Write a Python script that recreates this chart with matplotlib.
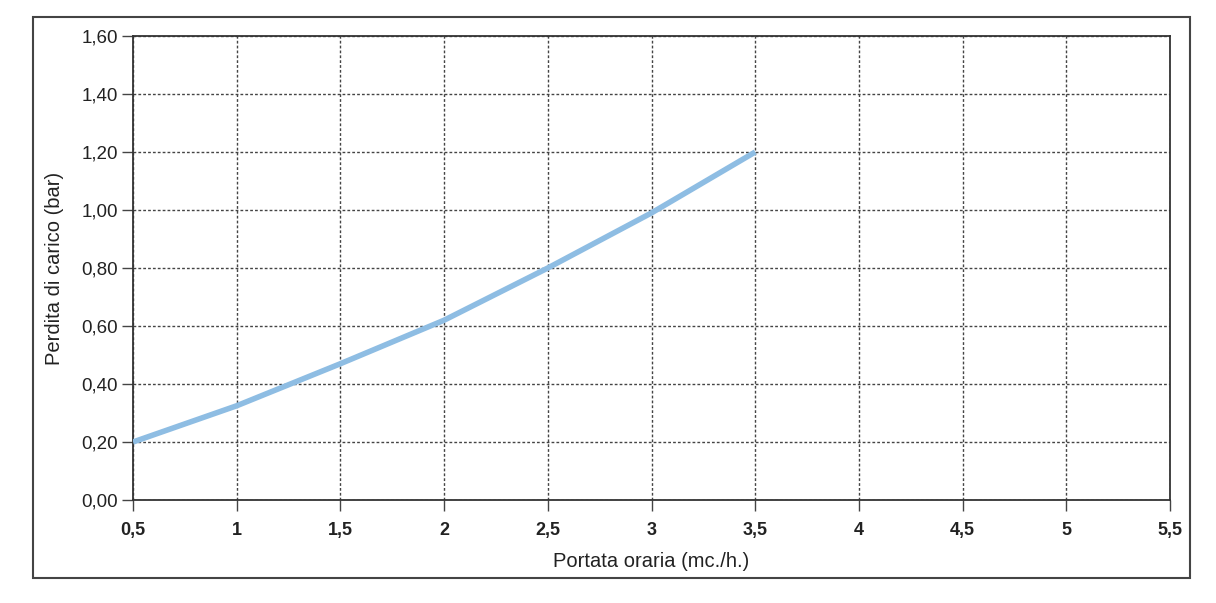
import matplotlib
matplotlib.use("Agg")
import matplotlib.pyplot as plt
from matplotlib.patches import Rectangle

plt.rcParams["font.family"] = ["Liberation Sans", "DejaVu Sans"]

# Portata oraria (mc./h.) vs perdita di carico (bar)
portata = [0.5, 1.0, 1.5, 2.0, 2.5, 3.0, 3.5]
perdita = [0.20, 0.325, 0.47, 0.62, 0.80, 0.99, 1.20]

x_ticks = [0.5, 1, 1.5, 2, 2.5, 3, 3.5, 4, 4.5, 5, 5.5]
x_labels = ["0,5", "1", "1,5", "2", "2,5", "3", "3,5", "4", "4,5", "5", "5,5"]
y_ticks = [0.0, 0.2, 0.4, 0.6, 0.8, 1.0, 1.2, 1.4, 1.6]
y_labels = ["0,00", "0,20", "0,40", "0,60", "0,80", "1,00", "1,20", "1,40", "1,60"]

fig = plt.figure(figsize=(12.16, 6.03), dpi=100)
ax = fig.add_axes([0.1094, 0.1708, 0.8528, 0.7695])

# outer frame around the whole chart
fig.patches.append(Rectangle((0.027, 0.0415), 0.9516, 0.9303, transform=fig.transFigure,
                             fill=False, edgecolor="#444444", linewidth=1.5))

ax.plot(portata, perdita, color="#8ebde3", linewidth=4.0, solid_capstyle="butt", zorder=3)

ax.set_xlim(0.5, 5.5)
ax.set_ylim(0, 1.6)
ax.set_xticks(x_ticks)
ax.set_xticklabels(x_labels, fontsize=13, fontweight="bold", color="#222222")
ax.set_yticks(y_ticks)
ax.set_yticklabels(y_labels, fontsize=13.5, color="#222222")

ax.grid(True, color="#444444", linestyle=(0, (2, 1.5)), linewidth=1)
ax.set_axisbelow(True)
ax.tick_params(axis="both", length=8, width=1, color="#444444", direction="out")
ax.tick_params(axis="x", pad=8)
ax.tick_params(axis="y", pad=3)
for s in ax.spines.values():
    s.set_color("#333333")
    s.set_linewidth(1.3)

ax.set_xlabel("Portata oraria (mc./h.)", fontsize=14.5, color="#222222", labelpad=9)
ax.set_ylabel("Perdita di carico (bar)", fontsize=14.5, color="#222222", labelpad=12)

fig.savefig("out.png", dpi=100)
